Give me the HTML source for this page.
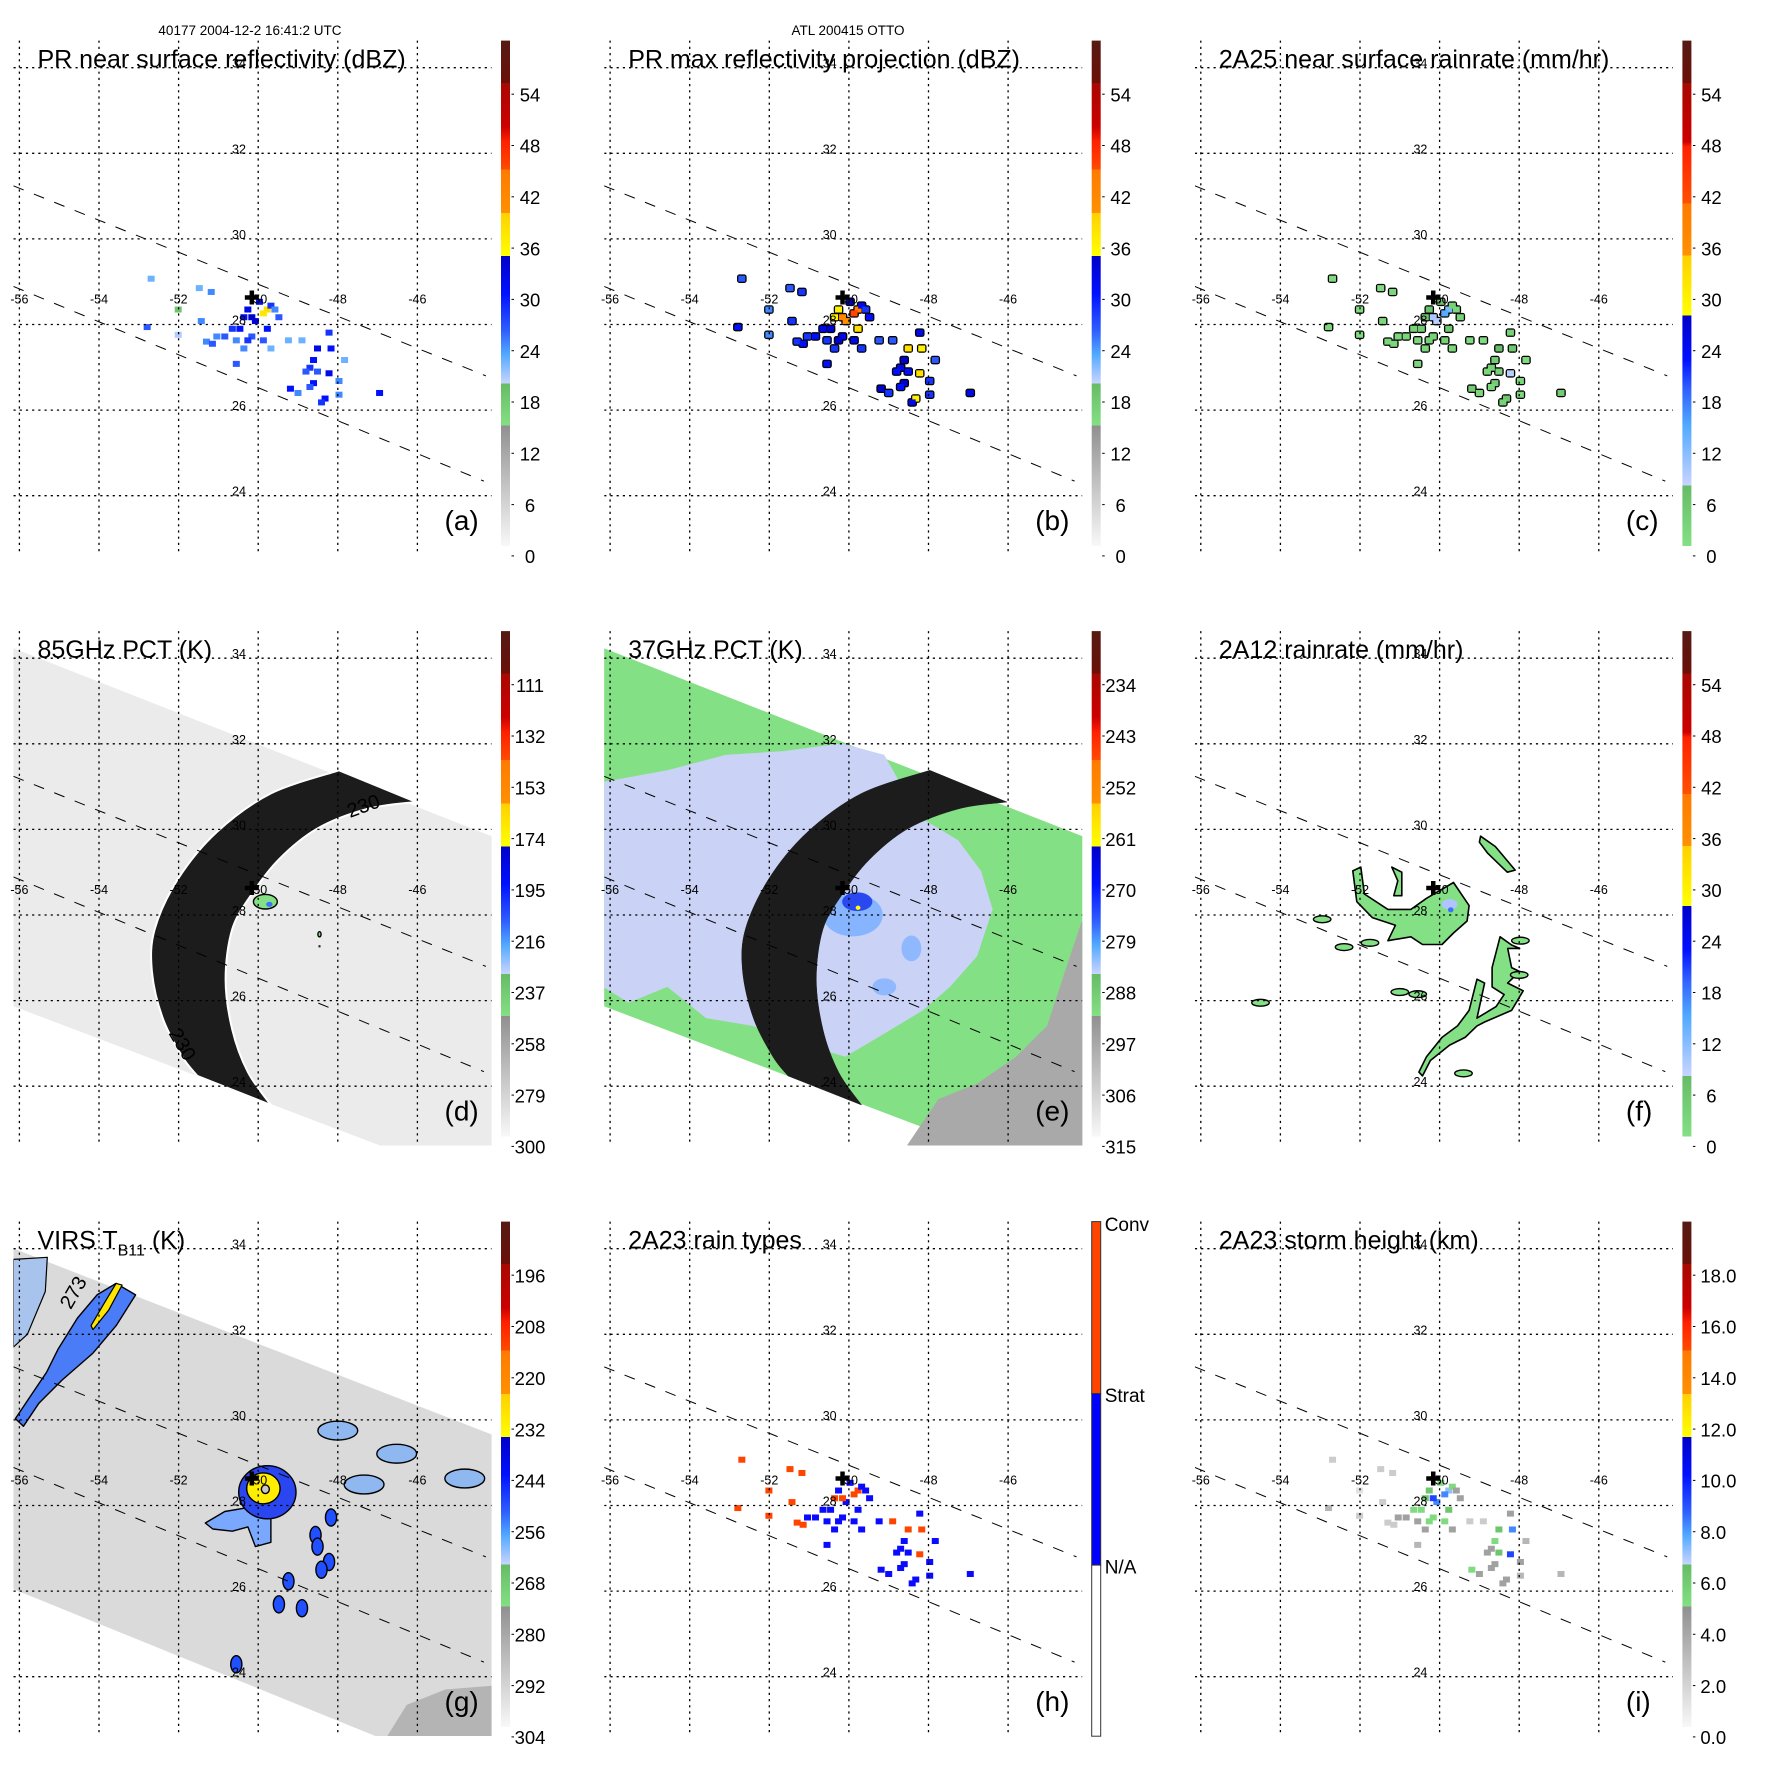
<!DOCTYPE html>
<html><head><meta charset="utf-8"><title>TRMM Otto overpass panels</title>
<style>
html,body{margin:0;padding:0;background:#fff;}
svg{display:block;font-family:"Liberation Sans",Arial,sans-serif;}
</style></head>
<body>
<svg id="fig" xmlns="http://www.w3.org/2000/svg" width="1771" height="1771" viewBox="0 0 1771 1771">
<rect x="0" y="0" width="1771" height="1771" fill="#fff"/>
<defs id="defs"></defs>
</svg>
<script>
const NS='http://www.w3.org/2000/svg';
const svg=document.getElementById('fig');
const defs=document.getElementById('defs');

// ---------- layout data ----------
const COLX=[0,590.7,1181.4];
const ROWY=[0,590.5,1181];
const lonTicks=[-56,-54,-52,-50,-48,-46];
const latTicks=[34,32,30,28,26,24];
const centerLon=-50.16, centerLat=28.63;
const swathUpper=[[-56.15,31.24],[-44.28,26.80]];
const swathLower=[[-56.15,28.89],[-44.33,24.34]];

// ---------- PR pixel data (shared locations) ----------
const ptLon=[-50.26,-49.77,-50.46,-49.68,-50.07,-49.48,-50.65,-50.84,-51.04,-50.16,-49.77,-50.36,-49.68,-49.97,-50.16,-49.87,-50.36,-49.58,-50.26,-49.87,-50.55,
 -48.51,-48.61,-48.22,-48.17,-48.70,-48.80,-48.22,-48.61,-48.70,-49.19,-48.32,-48.41,-47.97,-47.83,-47.97,-48.51,-49.00,
 -51.18,-51.48,-52.01,-51.43,-52.69,-52.79,-52.01,-50.55,-49.24,-48.90,-46.95,-51.30,-51.15];
const ptLat=[28.35,28.35,27.90,28.44,28.08,28.17,27.90,27.72,27.72,27.72,27.90,27.44,27.44,28.53,28.17,28.26,28.17,28.35,27.63,27.63,27.63,
 27.44,27.17,27.81,27.44,26.99,26.90,26.86,26.63,26.54,26.50,26.27,26.18,26.36,27.17,26.68,26.90,26.40,
 28.76,28.85,28.35,28.08,29.07,27.94,27.76,27.08,27.63,27.63,26.40,27.60,27.55];
const valNearDBZ=[32,38,30,28,33,26,28,26,24,26,30,24,22,30,34,37,30,24,28,26,24,
 32,30,28,30,28,26,32,30,26,30,30,28,24,22,24,26,24,
 24,22,18,24,22,26,20,26,22,22,30,24,26];
const valMaxDBZ=[36,44,34,32,40,30,32,30,28,32,38,28,28,34,42,45,36,28,34,32,28,
 38,34,32,36,32,30,38,34,30,34,36,32,28,26,28,30,28,
 28,26,24,28,26,30,24,30,26,26,32,28,30];
const valRain25=[6,12,4,3,8,3,3,2,2,3,5,2,2,5,9,14,5,2,3,3,2,
 7,4,3,5,3,2,8,4,2,4,5,3,2,1,2,3,2,
 2,1,1,2,1,2,1,2,1,1,4,2,2];
const valRainType=[1,2,1,1,1,1,1,1,1,1,1,1,1,1,2,2,2,1,1,1,1,
 2,1,1,2,1,1,2,1,1,1,1,1,1,1,1,1,1,
 2,2,2,2,2,2,2,1,1,2,1,2,2];
const valStormH=[6,7,5,5,8,4,5,4,4,5,6,4,4,5,9,8,6,4,5,5,4,
 6,5,4,8,4,4,9,4,4,5,4,4,3,3,4,6,4,
 2,2,1,2,2,3,2,3,2,2,3,2,2];

// ---------- 2A12 rain areas ----------
const f12Main=[[-49.65,28.76],[-49.26,28.22],[-49.31,27.86],[-49.65,27.58],[-49.94,27.31],[-50.43,27.31],[-50.72,27.49],[-51.30,27.40],[-51.11,27.76],[-51.69,27.94],[-52.08,28.31],[-52.18,29.03],[-51.98,29.12],[-51.89,28.49],[-51.30,28.13],[-50.72,28.13],[-50.33,28.39]];
const f12Arc=[[-51.20,29.12],[-50.95,29.00],[-50.95,28.45],[-51.15,28.45],[-51.05,28.80]];
const f12South=[[-48.48,27.49],[-48.19,27.30],[-47.99,27.22],[-48.29,27.22],[-48.19,26.77],[-47.99,26.68],[-48.29,26.41],[-47.90,26.23],[-48.19,25.77],[-48.87,25.50],[-49.06,25.41],[-49.36,25.14],[-49.75,24.96],[-50.23,24.60],[-50.43,24.24],[-50.52,24.33],[-50.33,24.69],[-49.94,25.14],[-49.55,25.41],[-49.26,25.77],[-49.06,26.50],[-48.87,26.41],[-49.06,25.59],[-48.58,25.86],[-48.38,26.14],[-48.68,26.32],[-48.68,26.77],[-48.48,27.49]];
const f12NE=[[-48.97,29.84],[-48.60,29.60],[-48.10,29.05],[-48.30,29.00],[-48.80,29.45],[-49.00,29.70]];
const f12SmallLon=[-52.95,-52.40,-51.75,-54.50,-51.00,-50.55,-47.97,-48.00,-49.40];
const f12SmallLat=[27.90,27.25,27.35,25.95,26.20,26.15,27.40,26.60,24.30];

// ---------- PCT swath geometry ----------
const swathDE=[[-56.5,34.36],[-43.5,29.61],[-43.5,21.40],[-56.5,25.99]];
const swathG=[[-56.5,34.13],[-43.5,29.43],[-43.5,21.27],[-56.5,26.18]];
const crescentOuter=[[-47.97,31.38],[-49.68,30.84],[-51.04,29.94],[-52.01,28.85],[-52.60,27.67],[-52.67,26.68],[-52.40,25.59],[-51.91,24.69],[-51.53,24.24]];
const crescentInner=[[-49.68,23.56],[-50.26,24.33],[-50.65,25.32],[-50.82,26.50],[-50.65,27.67],[-50.16,28.49],[-49.48,29.30],[-48.51,30.02],[-47.25,30.48],[-46.03,30.64]];
const e37Lavender=[[-56.17,31.11],[-54.56,31.38],[-53.10,31.74],[-51.64,31.83],[-50.18,32.01],[-49.11,31.74],[-48.24,30.30],[-47.26,29.75],[-46.68,29.03],[-46.39,28.13],[-46.78,27.04],[-47.46,26.32],[-48.14,25.77],[-49.11,25.23],[-50.09,24.69],[-51.06,24.96],[-52.42,25.41],[-53.59,25.59],[-54.56,26.32],[-55.53,25.95],[-56.17,26.32]];
const e37Gray=[[-48.53,22.63],[-47.75,23.70],[-46.78,24.06],[-45.80,24.69],[-45.02,25.41],[-44.54,26.77],[-44.15,27.85],[-43.85,27.85],[-43.85,21.80],[-48.53,21.80]];

// ---------- VIRS features ----------
const gBand=[[-53.57,33.19],[-53.08,32.92],[-53.57,32.20],[-54.15,31.56],[-54.93,30.93],[-55.51,30.39],[-55.90,29.85],[-56.10,30.03],[-55.71,30.57],[-55.32,31.11],[-55.03,31.65],[-54.54,32.38],[-54.05,32.92]];
const gYellow=[[-53.57,33.19],[-53.42,33.15],[-53.76,32.56],[-54.15,32.11],[-54.20,32.20],[-53.86,32.74]];
const gUpperLeft=[[-56.15,33.75],[-55.30,33.80],[-55.35,33.00],[-55.80,32.00],[-56.15,31.70]];
const gTail=[[-51.33,27.59],[-50.84,27.86],[-50.26,27.95],[-49.68,27.86],[-49.68,27.14],[-50.07,27.04],[-50.26,27.50],[-50.65,27.40],[-51.14,27.45]];
const gDark=[[-46.76,22.61],[-44.13,22.61],[-44.13,23.79],[-45.30,23.70],[-46.27,23.34]];
const gCloudLon=[-47.34,-46.52,-44.81,-48.17,-48.56,-48.51,-48.22,-49.24,-48.41,-49.48,-48.90,-50.55,-48.00];
const gCloudLat=[28.49,29.21,28.63,27.72,27.31,27.04,26.68,26.23,26.50,25.69,25.60,24.29,29.75];
const gCloudKind=[1,1,1,2,2,2,2,2,2,2,2,2,1];

// ---------- colour bars ----------
const LBL_DBZ=['54','48','42','36','30','24','18','12','6','0'];
const LBL_85=['111','132','153','174','195','216','237','258','279','300'];
const LBL_37=['234','243','252','261','270','279','288','297','306','315'];
const LBL_B11=['196','208','220','232','244','256','268','280','292','304'];
const LBL_H=['18.0','16.0','14.0','12.0','10.0','8.0','6.0','4.0','2.0','0.0'];
const CMAP_A=[[0,'#561a14'],[0.084,'#6a1008'],[0.084,'#a80800'],[0.17,'#cc0000'],[0.2,'#ff2000'],[0.255,'#ff4a00'],[0.255,'#ff7a00'],[0.341,'#ff9000'],[0.341,'#ffd000'],[0.426,'#ffff00'],[0.426,'#0000c8'],[0.5,'#0010ff'],[0.575,'#3060ff'],[0.62,'#50a8ff'],[0.678,'#c8d4ff'],[0.678,'#66bb66'],[0.762,'#84e084'],[0.762,'#909090'],[1,'#f8f8f8']];
const CMAP_C=[[0,'#561a14'],[0.084,'#6a1008'],[0.084,'#a80800'],[0.2,'#cc0000'],[0.21,'#ff2000'],[0.322,'#ff5000'],[0.322,'#ff7a00'],[0.425,'#ff9000'],[0.425,'#ffd000'],[0.544,'#ffff00'],[0.544,'#0000c8'],[0.63,'#0010ff'],[0.69,'#3060ff'],[0.76,'#50a8ff'],[0.88,'#c8d4ff'],[0.88,'#66bb66'],[1,'#84e084']];

function hex2rgb(h){return [parseInt(h.substr(1,2),16),parseInt(h.substr(3,2),16),parseInt(h.substr(5,2),16)];}
function colorAt(stops,f){
  f=Math.max(0,Math.min(1,f));
  for(let i=0;i<stops.length-1;i++){
    const a=stops[i],b=stops[i+1];
    if(f>=a[0]&&f<=b[0]){
      if(b[0]===a[0]) return b[1];
      const t=(f-a[0])/(b[0]-a[0]);const A=hex2rgb(a[1]),B=hex2rgb(b[1]);
      return 'rgb('+A.map((v,k)=>Math.round(v+(B[k]-v)*t)).join(',')+')';
    }
  }
  return stops[stops.length-1][1];
}
function mk(tag,parent){const e=document.createElementNS(NS,tag);parent.appendChild(e);return e;}

function gradient(id,stops){
  const g=mk('linearGradient',defs);
  g.setAttribute('id',id);g.setAttribute('x1','0');g.setAttribute('y1','0');g.setAttribute('x2','0');g.setAttribute('y2','1');
  stops.forEach(s=>{const st=mk('stop',g);st.setAttribute('offset',s[0]);st.setAttribute('stop-color',s[1]);});
}
gradient('gradA',CMAP_A);
gradient('gradC',CMAP_C);

const panels=[
 {id:'a',c:0,r:0,title:'PR near surface reflectivity (dBZ)',cmap:'A',labels:LBL_DBZ,kind:'near'},
 {id:'b',c:1,r:0,title:'PR max reflectivity projection (dBZ)',cmap:'A',labels:LBL_DBZ,kind:'max'},
 {id:'c',c:2,r:0,title:'2A25 near surface rainrate (mm/hr)',cmap:'C',labels:LBL_DBZ,kind:'rain25'},
 {id:'d',c:0,r:1,title:'85GHz PCT (K)',cmap:'A',labels:LBL_85,kind:'pct85'},
 {id:'e',c:1,r:1,title:'37GHz PCT (K)',cmap:'A',labels:LBL_37,kind:'pct37'},
 {id:'f',c:2,r:1,title:'2A12 rainrate (mm/hr)',cmap:'C',labels:LBL_DBZ,kind:'rain12'},
 {id:'g',c:0,r:2,title:'VIRS',cmap:'A',labels:LBL_B11,kind:'virs'},
 {id:'h',c:1,r:2,title:'2A23 rain types',cmap:'H',labels:[],kind:'types'},
 {id:'i',c:2,r:2,title:'2A23 storm height (km)',cmap:'A',labels:LBL_H,kind:'height'}
];

function gx(p,lon){return p.ox+19.4+(lon+56)*39.8;}
function gy(p,lat){return p.oy+67.7+(34-lat)*42.8;}
function polyD(p,pts){return pts.map((q,i)=>(i?'L':'M')+gx(p,q[0]).toFixed(1)+' '+gy(p,q[1]).toFixed(1)).join(' ')+' Z';}
function smoothD(p,pts,start){
  const P=pts.map(q=>[gx(p,q[0]),gy(p,q[1])]);
  let d=(start?'M':'L')+P[0][0].toFixed(1)+' '+P[0][1].toFixed(1);
  for(let i=0;i<P.length-1;i++){
    const p0=P[Math.max(0,i-1)],p1=P[i],p2=P[i+1],p3=P[Math.min(P.length-1,i+2)];
    const c1=[p1[0]+(p2[0]-p0[0])/6,p1[1]+(p2[1]-p0[1])/6],c2=[p2[0]-(p3[0]-p1[0])/6,p2[1]-(p3[1]-p1[1])/6];
    d+=' C'+c1.map(v=>v.toFixed(1)).join(' ')+' '+c2.map(v=>v.toFixed(1)).join(' ')+' '+p2.map(v=>v.toFixed(1)).join(' ');
  }
  return d;
}

function drawCells(p,g,vals,colorFn,outline){
  if(outline){
    for(let i=0;i<ptLon.length;i++){
      const r=mk('rect',g);
      
      
      r.setAttribute('x',gx(p,ptLon[i])-4.8);r.setAttribute('y',gy(p,ptLat[i])-4.3);
      r.setAttribute('width',9.6);r.setAttribute('height',8.6);r.setAttribute('fill','#000');r.setAttribute('rx',2.5);
    }
  }
  for(let i=0;i<ptLon.length;i++){
    const r=mk('rect',g);
    
    
    r.setAttribute('x',gx(p,ptLon[i])-3.5);r.setAttribute('y',gy(p,ptLat[i])-3);
    r.setAttribute('width',7);r.setAttribute('height',6);r.setAttribute('fill',colorFn(vals[i]));
  }
}
function ellipse(p,g,lon,lat,rx,ry,fill,stroke,name){
  const e=mk('ellipse',g);
  
  
  e.setAttribute('cx',gx(p,lon));e.setAttribute('cy',gy(p,lat));
  e.setAttribute('rx',rx*39.8);e.setAttribute('ry',ry*42.8);e.setAttribute('fill',fill);
  if(stroke){e.setAttribute('stroke',stroke);e.setAttribute('stroke-width',1.4);}
  return e;
}
function poly(p,g,pts,fill,stroke,name,sw){
  const e=mk('path',g);
  
  
  e.setAttribute('d',polyD(p,pts));e.setAttribute('fill',fill);
  if(stroke){e.setAttribute('stroke',stroke);e.setAttribute('stroke-width',sw||1.5);e.setAttribute('stroke-linejoin','round');}
  return e;
}
function txt(parent,x,y,s,size,anchor){
  const t=mk('text',parent);
  t.setAttribute('x',x);t.setAttribute('y',y);t.setAttribute('font-size',size);
  if(anchor)t.setAttribute('text-anchor',anchor);
  t.setAttribute('fill','#000');t.textContent=s;return t;
}

function drawPanel(p){
  p.ox=COLX[p.c];p.oy=ROWY[p.r];
  const g=mk('g',svg);
  
  
  const cp=mk('clipPath',defs);cp.setAttribute('id','clip-'+p.id);
  const cr=mk('rect',cp);cr.setAttribute('x',p.ox+13.5);cr.setAttribute('y',p.oy+38);cr.setAttribute('width',478.1);cr.setAttribute('height',517);
  const m=mk('g',g);
  
  
  m.setAttribute('clip-path','url(#clip-'+p.id+')');

  const vF=(stops,vmax)=>v=>colorAt(stops,(vmax-v)/vmax);
  if(p.kind==='near') drawCells(p,m,valNearDBZ,vF(CMAP_A,60),false);
  if(p.kind==='max') drawCells(p,m,valMaxDBZ,vF(CMAP_A,60),true);
  if(p.kind==='rain25') drawCells(p,m,valRain25,vF(CMAP_C,60),true);
  if(p.kind==='types') drawCells(p,m,valRainType,v=>v===2?'#ff4400':'#0a0aff',false);
  if(p.kind==='height') drawCells(p,m,valStormH,vF(CMAP_A,20),false);
  if(p.kind==='pct85'||p.kind==='pct37'){
    poly(p,m,swathDE,p.kind==='pct85'?'#ebebeb':'#84e084',null,'swath');
    if(p.kind==='pct37'){
      poly(p,m,e37Lavender,'#cad3f6',null,'cold-region');
      poly(p,m,e37Gray,'#a9a9a9',null,'warm-region');
      ellipse(p,m,-49.9,28.0,0.75,0.5,'#86b4ff',null,'scatter-halo');
      ellipse(p,m,-48.43,27.22,0.25,0.3,'#8fb8ff',null,'scatter-patch');
      ellipse(p,m,-49.11,26.32,0.3,0.2,'#8fb8ff',null,'scatter-patch');
      ellipse(p,m,-49.79,28.31,0.38,0.22,'#2a48f0',null,'scatter-core');
      ellipse(p,m,-49.77,28.17,0.06,0.05,'#ffff00',null,'scatter-peak');
    } else {
      ellipse(p,m,-49.82,28.31,0.3,0.17,'#84e084','#000','scatter-core');
      ellipse(p,m,-49.72,28.25,0.08,0.06,'#4070ff',null,'scatter-peak');
      ellipse(p,m,-48.46,27.55,0.04,0.06,'#84e084','#000','scatter-spot');
      ellipse(p,m,-48.46,27.27,0.03,0.03,'#333',null,'scatter-spot');
    }
    const c=mk('path',m);
    
    
    c.setAttribute('d',smoothD(p,crescentOuter,true)+' '+smoothD(p,crescentInner,false)+' Z');
    c.setAttribute('fill','#1c1c1c');
    c.setAttribute('stroke',p.kind==='pct85'?'#ffffff':'#1c1c1c');c.setAttribute('stroke-width',p.kind==='pct85'?2:0.5);
    if(p.kind==='pct85'){
      const t1=txt(m,gx(p,-47.3),gy(p,30.4),'230',20,'middle');t1.setAttribute('transform','rotate(-20 '+gx(p,-47.3)+' '+gy(p,30.4)+')');
      const t2=txt(m,gx(p,-52.05),gy(p,24.9),'230',20,'middle');t2.setAttribute('transform','rotate(60 '+gx(p,-52.05)+' '+gy(p,24.9)+')');
    }
  }
  if(p.kind==='virs'){
    poly(p,m,swathG,'#dadada',null,'swath');
    poly(p,m,gDark,'#b4b4b4',null,'warm-region');
    poly(p,m,gUpperLeft,'#a8c4ec','#000','cloud-band',1.2);
    poly(p,m,gBand,'#4a7cf8','#000','cloud-band',1.4);
    poly(p,m,gYellow,'#ffe600','#000','cold-core',1.2);
    poly(p,m,gTail,'#7aa8ff','#000','cloud-tail',1.4);
    ellipse(p,m,-49.77,28.31,0.72,0.62,'#2a46f0','#000','hurricane-cloud');
    ellipse(p,m,-49.87,28.40,0.42,0.36,'#ffee00','#000','hurricane-core');
    ellipse(p,m,-49.82,28.38,0.1,0.1,'#c8c8c8','#000','hurricane-eye');
    for(let i=0;i<gCloudLon.length;i++){
      const big=gCloudKind[i]===1;
      ellipse(p,m,gCloudLon[i],gCloudLat[i],big?0.5:0.14,big?0.22:0.2,big?'#8fb8f0':'#2050ff','#000','cloud-cell');
    }
    const t=txt(m,gx(p,-54.5),gy(p,32.9),'273',20,'middle');t.setAttribute('transform','rotate(-60 '+gx(p,-54.5)+' '+gy(p,32.9)+')');
  }
  if(p.kind==='rain12'){
    [f12Main,f12Arc,f12South,f12NE].forEach(a=>poly(p,m,a,'#84e084','#000','rain-area',1.6));
    ellipse(p,m,-49.75,28.25,0.2,0.12,'#b0c4ff',null,'rain-core');
    ellipse(p,m,-49.72,28.12,0.07,0.06,'#4070ff',null,'rain-peak');
    for(let i=0;i<f12SmallLon.length;i++) ellipse(p,m,f12SmallLon[i],f12SmallLat[i],0.22,0.08,'#84e084','#000','rain-cell');
  }

  // grid
  lonTicks.forEach(lon=>{
    const l=mk('line',m);
    
    
    l.setAttribute('x1',gx(p,lon));l.setAttribute('x2',gx(p,lon));l.setAttribute('y1',p.oy+40.6);l.setAttribute('y2',p.oy+554);
    l.setAttribute('stroke','#000');l.setAttribute('stroke-width',1.3);l.setAttribute('stroke-dasharray','2.2 4');
  });
  latTicks.forEach(lat=>{
    const l=mk('line',m);
    
    
    l.setAttribute('x1',p.ox+13.5);l.setAttribute('x2',p.ox+491.6);l.setAttribute('y1',gy(p,lat));l.setAttribute('y2',gy(p,lat));
    l.setAttribute('stroke','#000');l.setAttribute('stroke-width',1.3);l.setAttribute('stroke-dasharray','2.2 4');
  });
  [swathUpper,swathLower].forEach(s=>{
    const l=mk('line',m);
    
    
    l.setAttribute('x1',gx(p,s[0][0]));l.setAttribute('y1',gy(p,s[0][1]));l.setAttribute('x2',gx(p,s[1][0]));l.setAttribute('y2',gy(p,s[1][1]));
    l.setAttribute('stroke','#000');l.setAttribute('stroke-width',1);l.setAttribute('stroke-dasharray','11 11');
  });
  lonTicks.forEach(lon=>{
    const t=txt(g,gx(p,lon),p.oy+303.5,String(lon),12.5,'middle');
    
    
  });
  latTicks.forEach(lat=>{
    const t=txt(g,p.ox+239,gy(p,lat),String(lat),12.5,'middle');
    
    
  });
  // storm centre
  const cx=gx(p,centerLon),cy=gy(p,centerLat);
  const plus=mk('path',g);
  
  
  plus.setAttribute('d','M'+(cx-7)+' '+cy+' H'+(cx+7)+' M'+cx+' '+(cy-7)+' V'+(cy+7));
  plus.setAttribute('stroke','#000');plus.setAttribute('stroke-width',4.5);

  // title
  const tt=txt(g,p.ox+37.5,p.oy+67.7,'',25,'start');
  
  
  if(p.kind==='virs'){
    tt.textContent='VIRS T';
    const sub=mk('tspan',tt);sub.setAttribute('font-size',16);sub.setAttribute('dy',7);sub.textContent='B11';
    const rest=mk('tspan',tt);rest.setAttribute('dy',-7);rest.textContent=' (K)';
  } else tt.textContent=p.title;
  const lt=txt(g,p.ox+444.5,p.oy+530,'('+p.id+')',28,'start');
  
  

  // colour bar
  const cb=mk('g',g);
  
  
  const bx=p.ox+501,by=p.oy+40.6,bh=505.4;
  if(p.cmap==='H'){
    const parts=[['#ff4400',0,171.9,'colorbar-conv'],['#0000ff',171.9,343.5,'colorbar-strat'],['#ffffff',343.5,514.6,'colorbar-na']];
    parts.forEach(q=>{
      const r=mk('rect',cb);
      
      
      r.setAttribute('x',bx);r.setAttribute('y',by+q[1]);r.setAttribute('width',9);r.setAttribute('height',q[2]-q[1]);
      r.setAttribute('fill',q[0]);r.setAttribute('stroke','#333');r.setAttribute('stroke-width',1);
    });
    [['Conv',50],['Strat',221],['N/A',392.6]].forEach(q=>{
      const t=txt(cb,p.ox+514,p.oy+q[1],q[0],19,'start');
      
      
    });
  } else {
    const r=mk('rect',cb);
    
    
    r.setAttribute('x',bx);r.setAttribute('y',by);r.setAttribute('width',9);r.setAttribute('height',bh);
    r.setAttribute('fill',p.cmap==='C'?'url(#gradC)':'url(#gradA)');
    p.labels.forEach((s,i)=>{
      const yy=p.oy+94.2+i*51.3;
      const tk=mk('line',cb);
      
      
      tk.setAttribute('x1',bx+10.5);tk.setAttribute('x2',bx+13);tk.setAttribute('y1',yy);tk.setAttribute('y2',yy);
      tk.setAttribute('stroke','#000');tk.setAttribute('stroke-width',1);
      const t=p.kind==='height'?txt(cb,p.ox+519,yy+7.2,s,18.5,'start'):txt(cb,p.ox+530,yy+7.2,s,18.5,'middle');
      
      
    });
  }
}
panels.forEach(drawPanel);

const h1=txt(svg,250,34.8,'40177 2004-12-2 16:41:2 UTC',13.5,'middle');


const h2=txt(svg,848,34.8,'ATL 200415 OTTO',13.5,'middle');


</script>
</body></html>
